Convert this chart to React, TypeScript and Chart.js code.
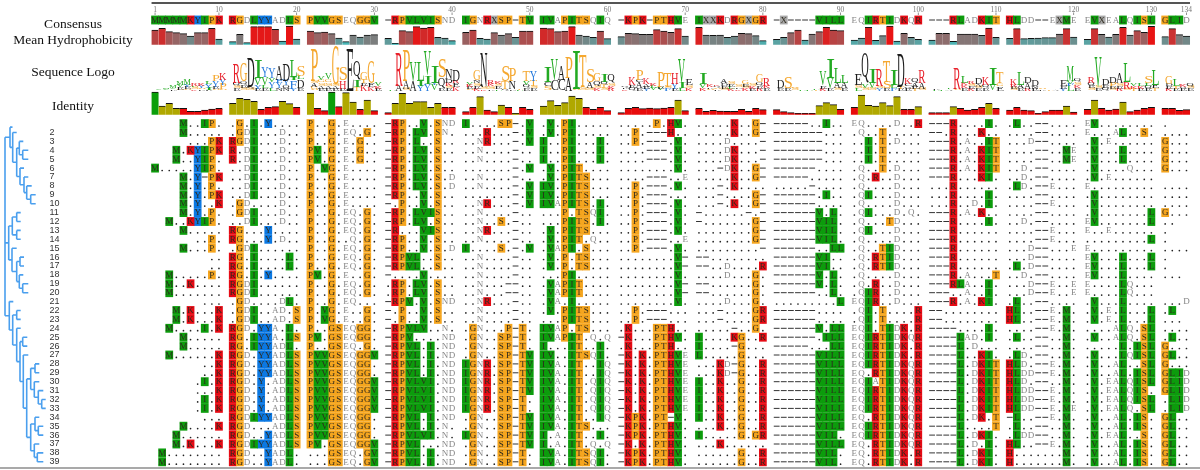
import React, { useEffect, useRef } from "react";
import { Chart, registerables } from "chart.js";
Chart.register(...registerables);

const consensus = ["MMMMMKYIPK","RGDLYYADLS","PVVGSEQGGV","-RPVLVISND","IGNRXSP-TV","IVAPITSQIQ","-KPK-PTHVE","IXXKDRGXGR","-X----VILL","EQIRTIDKQR","---RLADKIT","HLDD--EXME","EVXEALQISL","GLID"];

const block1 = ["    M..IP.","    M.....","     ...PK","   M.KYIPK","   M..YIP.","M.....YIP.","    M.Y-PK","    M.Y.P.","    M.Y.PK","    M.Y..K","    M.Y.P.","  M..KYIP.","    M.....","      ..P.","    M...P.","        ..","        ..","  M.....P.","  M..K....","  M.......","       ...","   M.K...K","   M.K...K","  M....I.K","    M.....","    M.....","  M......K","       ..K","       ..K","      .I.K","      ...K","      .I.K","      .I.K","       ...","    M....K","   M......","   M.K...K"," M........"," M........"];
const block2 = [".G.I.Y....",".GDI...D..","RGDI...D..","R.DI...D..","R.DI...D..","..DI...D..","..DI...D..","..DI...D..","..DI...D..",".GD....D..",".GDI...D..","..DI...D..","RG...Y....","RG...Y.D..",".GDI......","RG.I....L.","RG.I....L.","RG.I.Y....","RGDI......","RGDI......",".GD....DL.",".GDI..AD.S",".GDI..AD.S","RGD.YYA.L.","RG.IYYA.LS","RG.IYYADL.","RGD.YYADLS","RGD.YYADLS","RGD.YYADLS","RGD.Y.ADLS","RGD.Y.ADLS","RGD.Y.ADLS","RGD.Y.ADLS","RGDIYYADLS","RGD...ADLS","RGD..YADLS","RGDIYYADLS","RGD..YADL.","RGD..YADL."];
const block3 = ["P..G.E....","P..G.EQ.G.","P..G.E.G..","PV.G.E.G..","PV.G.E.G..","P.VG.E....","P..G.E....","P..G.E....","P..G.E....","P..G.E....","P..G.EQ.G.","P..G.EQ.G.","P..G.EQ.G.","P..G..Q.G.","P..G.EQ.G.","P..G.EQ.G.","P..G.EQ.G.","PV.G.E..G.","P..G.EQ.G.","P..G.EQ.G.","P..G.EQ...","P.VG.E..G.","P.VG.E..G.","P..GSEQGG.","PV.GSEQGG.","P..GSEQ.G.","PVVGSEQGGV","PVVGSEQGG.","PVVGSEQGG.","PVVGSEQGGV","PVVGSEQGGV","PVVGSEQGGV","PVVGSEQGGV","PVVGSEQGG.","PVVGSEQGG.","PVVGSEQGG.","PV.GSEQGGV","...GSEQ.GV","...GSEQ.GV"];
const block4 = ["-RP..V.SND","-RP.LV.SN.","-RP.L..S..","-RP.LV.S..","-RP.LV.S..","-RP.LV.S..","-RP.LV.S.D","-RP.LV.S.D","-RP..V.S..","-.P..V.S..","-RP.LVIS..","-RP.LV.S..","-R...VIS..","-RP..V.S..","-RP..V.S.D","-RPVL..S..","-RPVL..S..","-....V....",".RP.LV.S..",".RP.LV.S..","-RPV.V.SND","-.P..V.S..","-.P..V.S..","-RPVLV..N.","-RPV....ND","-RPVL.I.ND","-RPVL.I.ND","-RPVL.I.ND","-RPVL.I.ND","-RPVLVI.ND","-RPVLVI.ND","-RPVLVI.ND","-RPVLVI.ND","-RPVL.I.ND","-RPVL.I.N.","-RPVLVI.N.","-RPVL...ND","-RPVL.I.ND","-RPVL.I.ND"];
const block5 = ["I....SP-.V","...R...-.V","..NR...-.V","..N....-..","..N....-..",".......-.V","..N....-..","..N....-.V",".......-.V","..NR...-.V","..N....-..","..N..S.-..","..NR...-..","..N....-..","I....S.-.V","..N....-..","..N....-..","..N....-..","..N...--..","..N...--..","..NR...-..","..N....-..","..N....-..",".GN...P-T.",".GN..SP-T.",".GN..SP-T.",".GN..SP-TV","IGNR.SP-TV","IGNR.SP-TV","IGNR.SP-TV","IGNR.SP-TV","IGNR.SP-T.","IGNR.SP-T.",".GN..SP-TV",".GN..SP-TV","IGN..SP-TV",".GN..SP-TV",".GN..SP-T.",".GN..SP-T."];
const block6 = [".V.PI.....",".V.PI.....","I..PI...I.","I..PI...I.","I..PI...I.",".V.PIT....",".V.PITS...","IV.PITS...","IV.PITS...","IVAPITS.I.","...P.TSQI.","...PITS.I.",".V.PITS...",".V.PIT.Q..",".VAPI.S...",".V.P.TS...",".V.P.TS...","...PI.....",".VAPIT....",".VAPIT....",".VA.I.....",".V.PITS...","...PITS...","IVAP.TS...","IVAPIT.Q.Q","I...IT..I.","IV..ITSQI.","IVA.IT..IQ","IVA.IT..IQ","IVA.IT.QIQ","IVA.IT.QIQ","IVA.IT.QIQ","IVA.IT.QIQ","IVA.IT..IQ","IVA.ITS...","I.A.IT..I.","I.A.IT.Q.Q","IVA.ITSQI.","IVA.ITSQI."];
const block7 = [".....P.HV.","..P.---H..","..P.---.V.","....---.V.","....---.V.","........V.","....---..E","..P.---.V.","..P.---...","..P.---.V.","..P.---.V.","..P.---.V.","..P.---.V.","..P.---..E","..P.---.V.","........V-","........V-","........V.","........V-","........V-","........V.","..P.---...","..P.---...",".K...PTH..","-K...PTHV.",".K...PTH..","-K.K.PTHVE","-K.K.PTHVE","-K.K.PTHVE","-K.K.PTHVE","-K.K.PTHVE","-K.K.PTHVE","-K.K.PTHVE","-KPK.PT-V.","-KPK.PTHV.","-KPK.PTHV.","-K.K.PTHV.","-KPK.PTHV.","-KPK.PTHV."];
const block8 = [".....K..G-",".....K..G-","....D....-","....DK...-","....DK...-","...-DK..G-",".....K..G-","...-.K....","...-....G-","...-.K..G-","-......-.-","-.......G-","........G-","........G-",".........-","--........","--..D....R","....D...G.","--......G.","--......G.","....D...G.","...-....GR","...-....GR",".....-..G.","I....KG..R","I....-G...","L.....G...","...KD-G..R","...KD-G..R","I..K..G..R","I..K..G..R","I..K..G..R","I..K..G..R","I..K..G..R","...K..G..R","I.....G.GR","...K......","......G..R","......G..R"];
const block9 = ["-----..I..","-------...","-------...","-------...","-------...","------....","-----.....",".....-....","------.I..","------....","------V.L.","------VIL.","------VIL.","------VIL.","------..LL","------VI..","------VI..","------V.L.","------V.L.","------..L.",".........L","------....","------....","------V.LL","------.ILL","-----...LL","------VILL","------VILL","------VILL","------VILL","------VILL","------VILL","------VILL","------VILL","------VILL","------VIL.","------VILL","------VIL.","------VIL."];
const block10 = ["EQ....D..R",".Q..T.....","..I.T.D...","..I.T.....","..I.T.....",".Q..T.D...",".Q.R..D...",".Q....D...",".QI...D...",".Q....D...",".QI...D.Q.",".Q...TD...",".QI...D...",".Q....D...",".Q..TID...",".Q.RTID...",".Q.RTID...",".Q....D...",".Q.R..D...",".QIR..D...","EQIR..D...",".QI.T....R",".QI.T....R","EQI.TIDK.R","EQIRTIDKQR","EQIRTIDK.R","EQIRTIDK.R","EQIRTIDKQR","EQ.RTIDKQR","EQIATIDKQR","EQIRTIDKQR","EQIRTIDKQR","EQIRTIDKQR","EQ.RTIDKQR","EQIRTIDKQR","EQIRTIDKQR","EQ.RTIDKQR","EQ.RTIDK.R","EQ.RTIDK.R"];
const block11 = ["---R....I.","--.R...K..","---R.A..IT","---R.A.KIT","---R.A.KIT","---R.A.KIT","---R...KI.","...R......","...R....I.","...R..D.I.","---R.A.K..","---R....I.","---R......","---R......","---R......","---R......","---R......","---R.A...T","---RLA..I.","---..A..I.","---R.A.KI.","--........","--........","----....I.","----LAD.I.","----L.D...","----L..KI.","----L.DKIT","----L.DKIT","----L.DKIT","----L.DKIT","----L.DKIT","----L.DKIT","----L.DK.T","----L....T","----L.DKI.","----L.D.I.","----L.DKI.","----L.DKI."];
const block12 = [".L..--....","....--....","...D--....","....--..ME","....--..ME","..D.--....","..D.--....",".LD.--E...","....--....","....--E...","....--....","..D.--....","....--E...","....--E...","...D--...E","...D--....",".L.D--....","..D.--....","...D--E..E","...D--E..E",".L..--....","HL..--E.M.","HL..--E.M.","....--E.M.",".L..--..M.","....--..M.",".LD.--..M.","HLD.--E.M.","HLDD--E.M.","HLD.--..M.","HLDD--E.M.","HLDD--E.M.","HLDD--E.ME","-L..--E.M.",".L..--..M.",".LDD--..M.","HL..--E.M.","H.......M.","H.......M."];
const block13 = ["EV........","E...AL..S.",".V.E......",".V...L....",".V...L....",".V....Q...",".V.E......","E.........",".V........",".V........",".V.......L","EV.......L","E..E......",".........L","E.........","EV...L...L","EV...L...L","EV...L....","E....LQ...","E....LQ...",".V...L....",".V.E.L...L",".V.E.L...L","....ALQ.SL",".V..ALQ.SL",".....L.ISL",".V...LQISL",".V..AL..SL",".V..AL.ISL",".V.EALQISL",".V.EALQIS.",".V.EALQISL",".V.EALQ.SL",".V..AL.IS.",".V..AL.IS.",".V.EAL..S.",".V..AL.IS.",".V..AL.IS.",".V..AL.IS."];
const block14 = [".   ","....","G...","G...","G...","G...","    ","....","....","....","G...","..  ",".   ",".   ","....",".   ",".   ","... ","    ","    ","...D",".L  ","... ","....",".L..","G...","GL..","G...","GLID","GLID","GLID",".LID",".LID","GL..","GL..","GL..","GL..","GL..","GL.."];
const alignment = [block1,block2,block3,block4,block5,block6,block7,block8,block9,block10,block11,block12,block13,block14];

const rowLabels = ["","2","3","4","5","6","7","8","9","10","11","12","13","14","15","16","17","18","19","20","21","22","23","24","25","26","27","28","29","30","31","32","33","34","35","36","37","38","39"];
const rulerTicks = [1,10,20,30,40,50,60,70,80,90,100,110,120,130,134];
const sideLabels = ["Consensus","Mean Hydrophobicity","Sequence Logo","Identity"];

const hydrophobicity = [
  44,49,39,36,33,26,36,36,49,17, 9,31,6,54,54,54,46,11,56,17, 41,36,38,33,20,9,29,23,29,30,
  19,4,42,39,54,50,52,22,20,12, 37,44,19,17,36,29,33,22,41,41, 50,48,39,41,54,29,26,22,41,18,
  24,34,33,31,31,45,41,37,48,26, 52,29,28,29,22,26,34,33,27,12, 16,22,36,44,14,32,39,52,44,42,
  14,20,52,13,27,56,11,34,22,16, 14,34,34,10,32,32,32,28,50,22, 19,48,18,19,20,21,21,32,48,23,
  16,48,31,23,31,52,29,42,37,55, 24,48,30,26];
const identity = [
  68,26,34,19,19,10,10,14,17,19, 34,49,46,40,16,22,24,40,33,22, 65,19,12,68,24,66,38,16,44,12,
  6,34,64,34,39,39,22,34,22,22, 9,22,54,14,9,29,22,4,22,16, 26,42,28,36,56,49,22,16,22,12,
  6,19,22,18,20,18,20,22,44,12, 19,10,13,11,10,10,16,10,19,15, 15,9,6,4,4,4,27,36,30,16,
  22,59,28,26,36,27,54,16,16,24, 6,6,6,24,19,14,16,22,34,19, 14,22,14,12,4,9,14,14,26,8,
  16,44,19,14,17,38,9,14,19,22, 19,19,13,15];
const identityClass = "gooorrrrrr"+"oooorrroor"+"orrgrooror"+"rooooooorr"+"rrorrororr"+"oooooorrrr"+"rrrrrrrror"+"rrrrrrrrrr"+"rrrrrrooor"+"roooooorro"+"rrrorrrror"+"rrrrrrrror"+"rorrrorrrr"+"rrrr";

const logo = [
  "V5","V4M4","E3V4M6","G3E6V7M10","S4E6Y6M16","K4S6L5R6","E3S5Y6K6","E3I6Y10L9","S4E8Y16P18","S4P14Y14K20",
  "E8S8Q8R58","S8E8Q10G54","S6Q6D86","E6Y10V22I52","E8L8V24Y30","L8Y16V14Y28","N8Y14F10A40","N6Q10Y14D48","Y6F26I8L50","E8D26L10S30",
  "S4G6A12S8P94","E6A8S10G8V14","E6A8S10G10V16","E6A6S6G112","E6H24S38","E125","T10I22Q58","K14E8T10G26","K10E10G68","E6K8V14",
  "L3","A14R100","S6A24P90","A28V58","Y14I16L56","Y20I24V72","V16Y8I50","E8Q30S55","E8S6K10D12N30","K10E12R8D32",
  "S5E6K6V8","K6E8S10N6G30","K5S6E4N100","E5S8K8R12","L5E8S6K8","Q4T24S48","E4N24P38","L3T3","E8Q8V14T30","E6S8T14Y30",
  "S14C12I44","C30V62","C32A42","A38P60","S4I110","S10T95","S8A18S36","K6S8Q14G24","S8T10Q8I26","R6K8S10Q24",
  "K5E5Q6","Q8E8K24","E8A18C6P30","Y6E6A8K18","V8L6K6","V6E6P44","F6S6T40","E6Y14H32","L8I14V70","K6S10E14",
  "K6V14I32","S5E5K6","E5S5Q5K5","S6E8D8A12","K6L6E6S8","K5E5S6","K6S6E6G14","E6K6S6","R6E8Q10G26","E8K6R24",
  "E8D26","E8S34","S6G4","L4","L3","T3L2","K6E8V44","E8V30I56","S8A16L46","E8A14L26",
  "L8S8E32","S8V14Q90","S6V18I42","Y6S8R50","E6S20T60","F8L8I46","E6T6D100","E6Q6C8K18","T6E6A10Q14","S6A16R36",
  "L3E2","L4","A4L4","S4R60","E8K8K8L22","K6E8S6R8","E6S6A8D16","E8Q10K26","V18I50","E12G10T32",
  "S6E6R6K16","E8A10L38","R6A16D16","E6N8D18","E4S4","T3","A3","Y6E8E14","L14F6V8M44","E8K8S10Q10",
  "S8E8Q8R16","E6S6V90","Q8E8D18","S6E8P10D14","R6E8S8A28","S6R20L56","T6K8V10","E6K8L8","E6Q8L8S22","T8E10L46",
  "K6E8D6G24","E6T8L20","E6Q6K8","E6S6Q8"];

const L = (r: number, tip: number) => ({ r, tip });
const treeUpper = [10, L(1.4,12.5), [12.7, L(2,16.7), [16.7, [19.3, L(3,23.3), [22.7, L(4,28.3), L(5,28.3)]], [20, L(6,24), [24, L(7,28.3), [26.7, L(8,31.7), [30.7, L(9,35.7), L(10,35.7)]]]]]]];
const treeMiddle = [8.7, [12.3, [16.7, L(11,20.7), L(12,20.7)], [16.7, L(13,20.7), L(14,20.7)]], [12, L(15,16.7), [16.7, [20, L(16,24), L(17,24)], [19.3, L(18,23.3), [22.7, L(19,28.3), L(20,28.3)]]]]];
const treeLower = [9.3, L(21,13.3), [12.7, [16.7, L(22,20.7), L(23,20.7)], [16.7, L(24,20.7), [20, [22.7, L(25,27.3), L(26,27.3)], [23.3, L(27,28.3), [26.7, [30.7, [35, L(28,39.3), L(29,39.3)], [34.3, L(30,39.3), [38.3, L(31,43.3), [41.7, L(32,45.7), L(33,45.7)]]]], [30.7, [35, L(34,39.3), [38.3, L(35,43.3), L(36,43.3)]], [34.3, L(37,39.3), [37.3, L(38,43.3), L(39,43.3)]]]]]]]]];
const treeRoot = [5, treeUpper, treeMiddle, treeLower];

const GREEN = "#0c9c0c", ORANGE = "#f5a51e", RED = "#e60a14", BLUE = "#0b78e2", GREY = "#a8a8a8";
const LOGO_GREEN = "#22aa22", LOGO_ORANGE = "#f5a830", LOGO_RED = "#e8202a", LOGO_BLUE = "#2278dc", LOGO_BLACK = "#1c1c1c";
const CONSENSUS_ROW = -10.64;
const FILL: Record<string, string> = { M: GREEN, I: GREEN, L: GREEN, V: GREEN, P: ORANGE, G: ORANGE, S: ORANGE, T: ORANGE, R: RED, K: RED, H: RED, Y: BLUE, F: BLUE, X: GREY };
const LOGO_FILL: Record<string, string> = { M: LOGO_GREEN, I: LOGO_GREEN, L: LOGO_GREEN, V: LOGO_GREEN, P: LOGO_ORANGE, G: LOGO_ORANGE, S: LOGO_ORANGE, T: LOGO_ORANGE, R: LOGO_RED, K: LOGO_RED, H: LOGO_RED, Y: LOGO_BLUE, F: LOGO_BLUE };

const colPos = (c: number) => c + 0.944 * Math.floor((c - 1) / 10);
const hydroColor = (h: number) => {
  const v = Math.min(1, h / 55);
  const mix = (a: number[], b: number[], t: number) => a.map((x, i) => Math.round(x + (b[i] - x) * t));
  const rgb = v < 0.55 ? mix([50, 205, 205], [125, 125, 125], v / 0.55) : mix([125, 125, 125], [232, 20, 20], (v - 0.55) / 0.45);
  return `rgb(${rgb[0]},${rgb[1]},${rgb[2]})`;
};

function treeSegments() {
  const pts: any[] = [];
  const seg = (x1: number, y1: number, x2: number, y2: number) => { pts.push({ x: x1, y: y1 }, { x: x2, y: y2 }, { x: NaN, y: NaN }); };
  const walk = (node: any, parentX: number): number => {
    if (!Array.isArray(node)) { seg(parentX, node.r, node.tip, node.r); return node.r; }
    const [x, ...kids] = node;
    const ys = kids.map((k: any) => walk(k, x));
    const y = (ys[0] + ys[ys.length - 1]) / 2;
    seg(x, ys[0], x, ys[ys.length - 1]);
    seg(parentX, y, x, y);
    return y;
  };
  walk(treeRoot, treeRoot[0] as number);
  return pts;
}

function cellsAndText() {
  const groups: Record<string, any[]> = { [GREEN]: [], [ORANGE]: [], [RED]: [], [BLUE]: [], [GREY]: [] };
  const dots: any[] = [], dashes: any[] = [], letters: any[] = [];
  const put = (ch: string, col: number, row: number) => {
    const x = colPos(col);
    if (ch === " ") return;
    if (ch === ".") { dots.push({ x, y: row + 0.27 }); return; }
    if (ch === "-") { dashes.push({ x, y: row }); return; }
    const f = FILL[ch];
    if (f) groups[f].push({ x, y: [row - 0.46, row + 0.46] });
    letters.push({ ch, x, y: row, filled: !!f, cons: row < 0 });
  };
  alignment.forEach((blk, b) => blk.forEach((s, r) => { for (let i = 0; i < s.length; i++) put(s[i], b * 10 + i + 1, r + 1); }));
  consensus.forEach((s, b) => { for (let i = 0; i < s.length; i++) put(s[i], b * 10 + i + 1, CONSENSUS_ROW); });
  return { groups, dots, dashes, letters };
}

export default function App() {
  const ref = useRef<HTMLCanvasElement>(null);
  useEffect(() => {
    const { groups, dots, dashes, letters } = cellsAndText();
    const cols = hydrophobicity.map((_, i) => i + 1);
    const barDefaults = { type: "bar", grouped: false, barPercentage: 1, categoryPercentage: 1, xAxisID: "x" };
    const datasets: any[] = Object.keys(groups).map((color) => ({ ...barDefaults, yAxisID: "yRows", data: groups[color], backgroundColor: color, borderWidth: 0 }));
    datasets.push({ ...barDefaults, yAxisID: "yHydro", data: cols.map((c) => ({ x: colPos(c), y: hydrophobicity[c - 1] })), backgroundColor: hydrophobicity.map(hydroColor), borderColor: "#111", borderWidth: { top: 1, left: 0, right: 0, bottom: 0 }, borderSkipped: false });
    const idCol: Record<string, string> = { g: "#0a9e0a", o: "#b0a800", r: "#e80c0c" };
    datasets.push({ ...barDefaults, yAxisID: "yIdent", data: cols.map((c) => ({ x: colPos(c), y: identity[c - 1] })), backgroundColor: cols.map((c) => idCol[identityClass[c - 1]] || idCol.r), borderColor: "#111", borderWidth: { top: 1, left: 0, right: 0, bottom: 0 }, borderSkipped: false });
    datasets.push({ type: "scatter", xAxisID: "x", yAxisID: "yRows", data: dots, pointStyle: "circle", pointRadius: 0.85, backgroundColor: "#222", borderWidth: 0 });
    datasets.push({ type: "scatter", xAxisID: "x", yAxisID: "yRows", data: dashes, pointStyle: "line", pointRadius: 2.9, borderColor: "#333", borderWidth: 1 });
    datasets.push({ type: "line", xAxisID: "xTree", yAxisID: "yRows", data: treeSegments(), borderColor: "#4a9fee", borderWidth: 1.6, pointRadius: 0, spanGaps: false, tension: 0 });

    const overlay = {
      id: "overlay",
      afterDatasetsDraw(chart: any) {
        const c = chart.ctx, sc = chart.scales;
        const cx = (col: number) => sc.x.getPixelForValue(colPos(col));
        c.save();
        c.textAlign = "center"; c.textBaseline = "middle";
        c.font = '9px "Liberation Serif"';
        letters.forEach((l: any) => {
          c.fillStyle = l.filled ? "#2e2a1e" : "#858585";
          c.fillText(l.ch, sc.x.getPixelForValue(l.x), sc.yRows.getPixelForValue(l.y) + 0.4);
        });
        c.textBaseline = "alphabetic";
        logo.forEach((spec, i) => {
          const px = cx(i + 1);
          let acc = 0;
          for (const m of spec.matchAll(/([A-Z])(\d+)/g)) {
            const ch = m[1], h = +m[2];
            const y0 = sc.yLogo.getPixelForValue(acc), y1 = sc.yLogo.getPixelForValue(acc + h);
            acc += h;
            c.font = '60px "Liberation Serif"';
            const t = c.measureText(ch);
            const gh = t.actualBoundingBoxAscent + t.actualBoundingBoxDescent;
            const gw = t.actualBoundingBoxLeft + t.actualBoundingBoxRight;
            c.save();
            c.translate(px - 3.55, y0);
            c.scale(7.1 / gw, (y0 - y1) / gh);
            c.fillStyle = LOGO_FILL[ch] || LOGO_BLACK;
            c.textAlign = "left";
            c.fillText(ch, t.actualBoundingBoxLeft, -t.actualBoundingBoxDescent);
            c.restore();
          }
        });
        c.fillStyle = "#555";
        c.fillRect(cx(1) - 3.5, 2, cx(134) - cx(1) + 7, 2);
        c.fillStyle = "#777"; c.font = '7.5px "Liberation Serif"'; c.textAlign = "center"; c.textBaseline = "alphabetic";
        rulerTicks.forEach((t) => {
          const x = cx(t);
          c.fillText(String(t), x, 12);
          c.fillRect(x - 0.4, 12.5, 0.8, 2.5);
        });
        c.fillStyle = "#555";
        c.fillRect(0, 467.5, 1200, 1);
        c.fillStyle = "#111"; c.font = '13.5px "Liberation Serif"'; c.textAlign = "center"; c.textBaseline = "middle";
        const ys = [24, 40.5, 72.5, 106];
        sideLabels.forEach((s, i) => c.fillText(s, 73, ys[i]));
        c.fillStyle = "#333"; c.font = '9px "Liberation Sans"'; c.textAlign = "left";
        rowLabels.forEach((s, i) => { if (s) c.fillText(s, 49.5, sc.yRows.getPixelForValue(i + 1)); });
        c.restore();
      },
    };

    const X1 = 155.05, UX = 7.1;
    const chart = new Chart(ref.current as any, {
      type: "bar",
      data: { datasets },
      plugins: [overlay],
      options: {
        animation: false, responsive: false, devicePixelRatio: 1, events: [],
        layout: { padding: 0, autoPadding: false },
        plugins: { legend: { display: false }, tooltip: { enabled: false } },
        scales: {
          x: { type: "linear", display: false, offset: false, min: 1 - X1 / UX, max: 1 + (1200 - X1) / UX },
          xTree: { type: "linear", display: false, offset: false, min: 0, max: 1200 },
          yRows: { type: "linear", display: false, offset: false, reverse: true, min: 2 - 132.5 / 8.9, max: 2 + (470 - 132.5) / 8.9 },
          yHydro: { type: "linear", display: false, offset: false, min: (44.7 - 470) * 3, max: 44.7 * 3 },
          yIdent: { type: "linear", display: false, offset: false, min: (114.7 - 470) * 3, max: 114.7 * 3 },
          yLogo: { type: "linear", display: false, offset: false, min: (90.5 - 470) * 3, max: 90.5 * 3 },
        },
      } as any,
    });
    return () => chart.destroy();
  }, []);
  return <canvas ref={ref} width={1200} height={470} style={{ position: "fixed", left: 0, top: 0, display: "block" }} />;
}
